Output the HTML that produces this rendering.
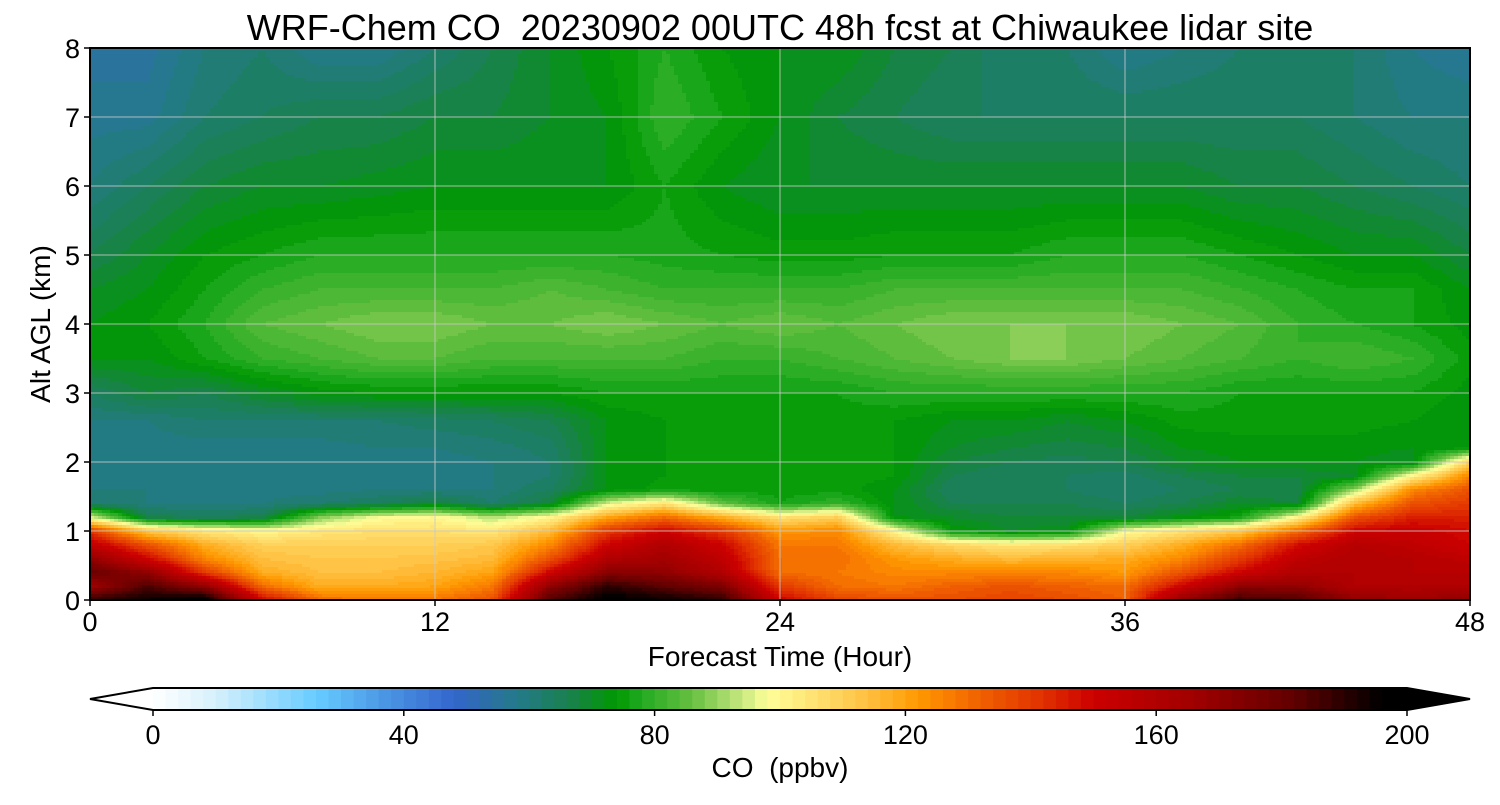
<!DOCTYPE html>
<html><head><meta charset="utf-8"><style>
body{margin:0;background:#fff;}
svg text{font-family:"Liberation Sans",sans-serif;fill:#000;}
</style></head><body>
<svg id="chart" width="1500" height="800" viewBox="0 0 1500 800" xmlns="http://www.w3.org/2000/svg">
<text x="780" y="40" font-size="36" text-anchor="middle" style="white-space:pre">WRF-Chem CO  20230902 00UTC 48h fcst at Chiwaukee lidar site</text>
<g id="field"></g>
<g id="grid"></g>
<rect x="90" y="48" width="1380" height="552" fill="none" stroke="#000" stroke-width="2"/>
<g id="axes"></g>
<text x="780" y="666" font-size="28" text-anchor="middle">Forecast Time (Hour)</text>
<text transform="translate(50,324) rotate(-90)" font-size="28" text-anchor="middle">Alt AGL (km)</text>
<g id="cbar"></g>
<text x="780" y="777" font-size="28" text-anchor="middle" style="white-space:pre">CO  (ppbv)</text>
</svg>
<script>
const times=[0,2,4,6,8,10,12,14,16,18,20,22,24,26,28,30,32,34,36,38,40,42,44,46,48];
const alts=[0,0.2,0.4,0.6,0.8,1.0,1.2,1.4,1.6,1.8,2.0,2.2,2.6,3.0,3.5,4.0,4.5,5.0,6.0,7.0,8.0];
const co_0_0=[190,195,200,150,130,128,128,135,185,198,195,190,150,138,135,136,138,136,132,170,188,185,170,168,170];
const co_0_2=[165,185,170,130,118,118,120,128,170,190,182,175,140,130,128,132,135,132,130,150,170,170,160,160,160];
const co_0_4=[180,170,140,118,114,114,116,120,150,172,170,160,130,128,125,125,125,125,122,135,150,160,160,158,158];
const co_0_6=[170,150,125,114,112,112,113,115,135,160,165,155,130,130,122,118,115,117,118,125,140,155,160,158,155];
const co_0_8=[155,135,118,110,110,110,110,112,125,150,160,150,128,128,115,108,104,106,110,118,130,148,158,155,150];
const co_1_0=[140,112,104,100,104,106,106,104,115,140,150,140,122,125,100,74,70,72,98,105,112,130,150,152,148];
const co_1_2=[96,66,64,66,88,98,100,92,100,120,130,118,105,110,72,70,68,68,68,72,76,100,135,145,145];
const co_1_4=[62,60,60,60,62,64,68,62,68,95,105,85,76,80,72,66,66,66,64,66,70,68,115,135,140];
const co_1_6=[60,60,59,59,59,60,60,60,64,72,75,74,75,75,72,64,64,64,62,64,66,66,90,125,135];
const co_1_8=[59,59,58,58,58,59,59,60,62,72,74,75,75,76,74,66,64,64,63,66,68,68,70,100,125];
const co_2_0=[59,59,58,58,58,59,59,60,62,72,74,75,75,76,74,68,66,65,66,70,72,72,72,70,110];
const co_2_2=[59,59,59,59,59,60,60,61,63,72,74,75,75,76,74,70,68,67,68,72,73,73,73,72,74];
const co_2_6=[60,60,62,62,62,62,63,64,66,72,74,74,74,75,74,72,72,70,72,75,75,75,75,74,72];
const co_3_0=[64,68,66,70,73,74,74,74,74,76,76,76,76,76,78,78,78,78,78,78,76,76,76,76,73];
const co_3_5=[72,72,76,80,82,84,84,82,82,82,82,80,80,82,84,86,88,88,86,84,82,80,82,80,75];
const co_4_0=[72,74,78,84,86,88,88,86,86,88,86,84,86,84,86,88,88,88,88,86,84,80,78,76,73];
const co_4_5=[70,72,76,80,82,82,82,82,84,82,80,80,80,80,82,82,82,82,82,82,80,78,76,76,72];
const co_5_0=[66,70,74,76,78,78,78,78,78,78,77,76,75,75,76,76,76,78,78,78,76,74,72,72,68];
const co_6_0=[60,64,68,70,70,71,72,72,72,72,76,72,70,70,70,70,70,70,70,70,68,68,66,64,62];
const co_7_0=[57,57,62,64,66,66,68,68,70,72,80,76,72,68,66,64,64,64,64,64,64,64,62,60,60];
const co_8_0=[55,55,60,62,58,58,62,66,70,74,78,74,72,72,68,66,62,62,58,60,62,62,62,58,56];
const coRows=[co_0_0,co_0_2,co_0_4,co_0_6,co_0_8,co_1_0,co_1_2,co_1_4,co_1_6,co_1_8,co_2_0,co_2_2,co_2_6,co_3_0,co_3_5,co_4_0,co_4_5,co_5_0,co_6_0,co_7_0,co_8_0];
const xTicks=[0,12,24,36,48];
const yTicks=[0,1,2,3,4,5,6,7,8];
const cbTicks=[0,40,80,120,160,200];

const NS="http://www.w3.org/2000/svg";
const X0=90,X1=1470,Y0=600,Y1=48;
const xs=t=>X0+(t-0)/(48-0)*(X1-X0);
const ys=a=>Y0-(a-0)/(8-0)*(Y0-Y1);
const anchors=[[0,"#ffffff"],[10,"#d6f0fc"],[26,"#66ccff"],[36,"#4d9ae6"],[48,"#3366cc"],[52,"#2e6cae"],[58,"#237a8a"],[66,"#1a8050"],[74,"#009900"],[78,"#22aa22"],[86,"#66c040"],[94,"#c8e880"],[98,"#ffff99"],[106,"#ffe070"],[114,"#ffc040"],[122,"#ff9900"],[132,"#f06000"],[142,"#e03000"],[150,"#cc0000"],[166,"#a00000"],[182,"#600000"],[196,"#000000"],[200,"#000000"]];
function hx(h){return [1,3,5].map(i=>parseInt(h.substr(i,2),16));}
function interpColor(v){
  for(let i=0;i<anchors.length-1;i++){const [a,ca]=anchors[i],[b,cb]=anchors[i+1];
    if(v<=b){const f=(v-a)/(b-a),A=hx(ca),B=hx(cb);return "rgb("+A.map((c,k)=>Math.round(c+(B[k]-c)*f)).join(",")+")";}}
  return "#000";
}
const palette=[];for(let i=0;i<100;i++)palette.push(interpColor(i*2+1));
function colorOf(v){if(v<0)return "#fff";if(v>=200)return "#000";return palette[Math.floor(v/2)];}
function lerpIdx(arr,v){for(let i=0;i<arr.length-1;i++){if(v<=arr[i+1])return [i,(v-arr[i])/(arr[i+1]-arr[i])];}return [arr.length-2,1];}
function valueAt(t,a){
  const [i,fx]=lerpIdx(times,t),[j,fy]=lerpIdx(alts,a);
  const r0=coRows[j],r1=coRows[j+1];
  const v0=r0[i]+(r0[i+1]-r0[i])*fx,v1=r1[i]+(r1[i+1]-r1[i])*fx;
  return v0+(v1-v0)*fy;
}
const field=document.getElementById('field');
const CW=4,CH=3;
for(let py=Y1;py<Y0;py+=CH){
  const a=8*(Y0-(py+CH/2))/(Y0-Y1);
  let runStart=X0,runCol=null;
  for(let px=X0;px<=X1;px+=CW){
    const col=px<X1?colorOf(valueAt(48*(px+CW/2-X0)/(X1-X0),a)):null;
    if(col!==runCol){
      if(runCol!==null){const r=document.createElementNS(NS,'rect');
        
        
        r.setAttribute('x',runStart);r.setAttribute('y',py);r.setAttribute('width',Math.min(px,X1)-runStart+0.5);r.setAttribute('height',CH+0.5);r.setAttribute('fill',runCol);field.appendChild(r);}
      runStart=px;runCol=col;
    }
  }
}
const grid=document.getElementById('grid'),axes=document.getElementById('axes');
function line(g,x1,y1,x2,y2,st,w,name){const l=document.createElementNS(NS,'line');
  
  
  l.setAttribute('x1',x1);l.setAttribute('y1',y1);l.setAttribute('x2',x2);l.setAttribute('y2',y2);l.setAttribute('stroke',st);l.setAttribute('stroke-width',w);g.appendChild(l);}
function text(g,x,y,s,anchor,size,name){const t=document.createElementNS(NS,'text');
  
  
  t.setAttribute('x',x);t.setAttribute('y',y);t.setAttribute('text-anchor',anchor);t.setAttribute('font-size',size);t.textContent=s;g.appendChild(t);}
xTicks.forEach(t=>{const x=xs(t);if(t>0&&t<48)line(grid,x,Y1,x,Y0,"rgba(200,200,200,0.85)",1,'x-grid-line');
  line(axes,x,Y0,x,Y0+6,"#000",1.5,'x-tick');text(axes,x,Y0+31,String(t),'middle',27,'x-tick-label');});
yTicks.forEach(a=>{const y=ys(a);if(a>0&&a<8)line(grid,X0,y,X1,y,"rgba(200,200,200,0.85)",1,'y-grid-line');
  line(axes,X0-6,y,X0,y,"#000",1.5,'y-tick');text(axes,X0-10,y+10,String(a),'end',27,'y-tick-label');});
const cb=document.getElementById('cbar');const C0=153,C1=1407,CT=688,CB=710;
const cx=v=>C0+v/200*(C1-C0);
palette.forEach((c,i)=>{const r=document.createElementNS(NS,'rect');
  
  
  r.setAttribute('x',cx(i*2));r.setAttribute('y',CT);r.setAttribute('width',cx(2)-cx(0)+0.6);r.setAttribute('height',CB-CT);r.setAttribute('fill',c);cb.appendChild(r);});
const p1=document.createElementNS(NS,'polygon');


p1.setAttribute('points',`${C0},${CT} 90,${(CT+CB)/2} ${C0},${CB}`);p1.setAttribute('fill','#fff');cb.appendChild(p1);
const p2=document.createElementNS(NS,'polygon');


p2.setAttribute('points',`${C1},${CT} 1470,${(CT+CB)/2} ${C1},${CB}`);p2.setAttribute('fill','#000');cb.appendChild(p2);
const o=document.createElementNS(NS,'polygon');


o.setAttribute('points',`${C0},${CT} ${C1},${CT} 1470,${(CT+CB)/2} ${C1},${CB} ${C0},${CB} 90,${(CT+CB)/2}`);o.setAttribute('fill','none');o.setAttribute('stroke','#000');o.setAttribute('stroke-width',2);cb.appendChild(o);
cbTicks.forEach(v=>{line(cb,cx(v),CB,cx(v),CB+6,"#000",1.5,'colorbar-tick');text(cb,cx(v),CB+34,String(v),'middle',27,'colorbar-tick-label');});
</script>
</body></html>
